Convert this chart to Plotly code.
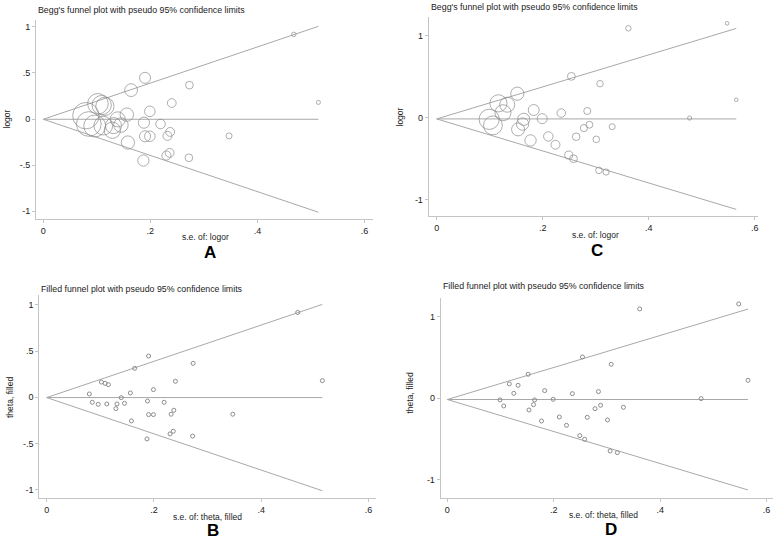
import plotly.graph_objects as go

# ---- data ----
se_ac1 = [0.468, 0.514, 0.190, 0.273, 0.164, 0.240, 0.199, 0.0795, 0.102, 0.109, 0.115,
          0.156, 0.139, 0.188, 0.219, 0.085, 0.096, 0.112, 0.131, 0.145, 0.129, 0.190,
          0.199, 0.232, 0.237, 0.347, 0.158, 0.236, 0.230, 0.272, 0.187]
logor_1 = [0.917, 0.180, 0.446, 0.367, 0.313, 0.173, 0.083, 0.036, 0.165, 0.151, 0.137,
           0.047, -0.004, -0.040, -0.054, -0.054, -0.076, -0.072, -0.072, -0.065, -0.122, -0.187,
           -0.187, -0.183, -0.140, -0.183, -0.255, -0.367, -0.396, -0.420, -0.450]

se_2 = [0.3615, 0.5476, 0.565, 0.477, 0.254, 0.308, 0.152, 0.1165, 0.133, 0.125, 0.183,
        0.235, 0.284, 0.199, 0.164, 0.099, 0.106, 0.162, 0.1535, 0.2776, 0.288, 0.331,
        0.2105, 0.263, 0.301, 0.177, 0.224, 0.249, 0.258, 0.306, 0.3195]
logor_2 = [1.094, 1.155, 0.220, -0.004, 0.506, 0.416, 0.294, 0.176, 0.159, 0.061, 0.094,
           0.057, 0.082, -0.012, -0.020, -0.020, -0.094, -0.078, -0.143, -0.127, -0.086, -0.110,
           -0.229, -0.233, -0.265, -0.278, -0.331, -0.457, -0.502, -0.645, -0.665]

pooled_1 = -0.003
pooled_2 = -0.015

x_ticks = [0, 0.2, 0.4, 0.6]
x_tick_text = ["0", ".2", ".4", ".6"]
y_ticks_1 = [-1, -0.5, 0, 0.5, 1]
y_tick_text_1 = ["-1", "-.5", "0", ".5", "1"]
y_ticks_2 = [-1, 0, 1]
y_tick_text_2 = ["-1", "0", "1"]

W, H = 777, 541
FONT = "Liberation Sans, Arial, sans-serif"
AXC = "#c4c4c4"
LINEC = "#a8a8a8"
PTC = "#8c8c8c"

fig = go.Figure()

panels = [
    ("", (36, 373, 20, 219.3), [-0.0137, 0.616], [-1.087, 1.073], se_ac1, logor_1, pooled_1, 2.1, (y_ticks_1, y_tick_text_1)),
    ("2", (428.7, 758, 16.7, 216), [-0.0151, 0.606], [-1.203, 1.236], se_2, logor_2, pooled_2, 2.0, (y_ticks_2, y_tick_text_2)),
    ("3", (39.3, 376, 295, 498.3), [-0.0138, 0.614], [-1.092, 1.106], se_ac1, logor_1, pooled_1, None, (y_ticks_1, y_tick_text_1)),
    ("4", (440.7, 773, 298.3, 497.7), [-0.0124, 0.612], [-1.217, 1.224], se_2, logor_2, pooled_2, None, (y_ticks_2, y_tick_text_2)),
]

layout = {}
for suf, (x0, x1, y0, y1), xr, yr, se, th, pooled, k, (yt, ytt) in panels:
    xa = "x" + suf
    ya = "y" + suf
    smax = max(se)
    fig.add_trace(go.Scatter(x=[0, smax], y=[pooled, pooled + 1.96 * smax], mode="lines",
                             line=dict(color=LINEC, width=1), xaxis=xa, yaxis=ya, hoverinfo="skip"))
    fig.add_trace(go.Scatter(x=[0, smax], y=[pooled, pooled - 1.96 * smax], mode="lines",
                             line=dict(color=LINEC, width=1), xaxis=xa, yaxis=ya, hoverinfo="skip"))
    fig.add_trace(go.Scatter(x=[0, smax], y=[pooled, pooled], mode="lines",
                             line=dict(color=LINEC, width=1), xaxis=xa, yaxis=ya, hoverinfo="skip"))
    if k is not None:
        sizes = [k / s for s in se]
    else:
        sizes = 4
    fig.add_trace(go.Scatter(x=se, y=th, mode="markers",
                             marker=dict(symbol="circle-open", size=sizes, color=PTC,
                                         line=dict(color=PTC, width=1)),
                             xaxis=xa, yaxis=ya))
    axis_common = dict(showgrid=False, zeroline=False, showline=True, linecolor=AXC, linewidth=1,
                       ticks="outside", ticklen=3, tickcolor=AXC, tickwidth=1,
                       tickfont=dict(family=FONT, size=9, color="#222"))
    layout["xaxis" + suf] = dict(axis_common, domain=[x0 / W, x1 / W], range=xr,
                                 anchor=ya, tickvals=x_ticks, ticktext=x_tick_text)
    layout["yaxis" + suf] = dict(axis_common, domain=[1 - y1 / H, 1 - y0 / H], range=yr,
                                 anchor=xa, tickvals=yt, ticktext=ytt)

fig.update_layout(**layout)

annotations = []


def ann(text, x, y, size, xanchor="center", bold=False, angle=0):
    annotations.append(dict(text=("<b>%s</b>" % text) if bold else text,
                            x=x / W, y=1 - y / H, xref="paper", yref="paper",
                            xanchor=xanchor, yanchor="middle", showarrow=False, textangle=angle,
                            font=dict(family=FONT, size=size, color="#222" if not bold else "#000")))


TS = 8.8
ann("Begg's funnel plot with pseudo 95% confidence limits", 36, 10, TS, "left")
ann("Begg's funnel plot with pseudo 95% confidence limits", 429, 6.5, TS, "left")
ann("Filled funnel plot with pseudo 95% confidence limits", 39, 289, TS, "left")
ann("Filled funnel plot with pseudo 95% confidence limits", 441, 286, TS, "left")

ann("s.e. of: logor", 205, 236.5, 8.5)
ann("s.e. of: logor", 595, 235, 8.5)
ann("s.e. of: theta, filled", 207, 517, 8.5)
ann("s.e. of: theta, filled", 603, 515, 8.5)

ann("logor", 6.5, 119, 8.5, angle=-90)
ann("logor", 399.5, 117, 8.5, angle=-90)
ann("theta, filled", 10, 398, 8.5, angle=-90)
ann("theta, filled", 409.5, 393, 8.5, angle=-90)

ann("A", 210, 253, 17, bold=True)
ann("C", 597, 250, 17, bold=True)
ann("B", 213, 530.5, 17, bold=True)
ann("D", 611, 529.5, 17, bold=True)

fig.update_layout(width=W, height=H, margin=dict(l=0, r=0, t=0, b=0),
                  paper_bgcolor="white", plot_bgcolor="white", showlegend=False,
                  annotations=annotations)

fig.write_html("out.html", config={"displayModeBar": False},
               post_script="document.body.style.margin='0px';document.body.style.overflow='hidden';")
